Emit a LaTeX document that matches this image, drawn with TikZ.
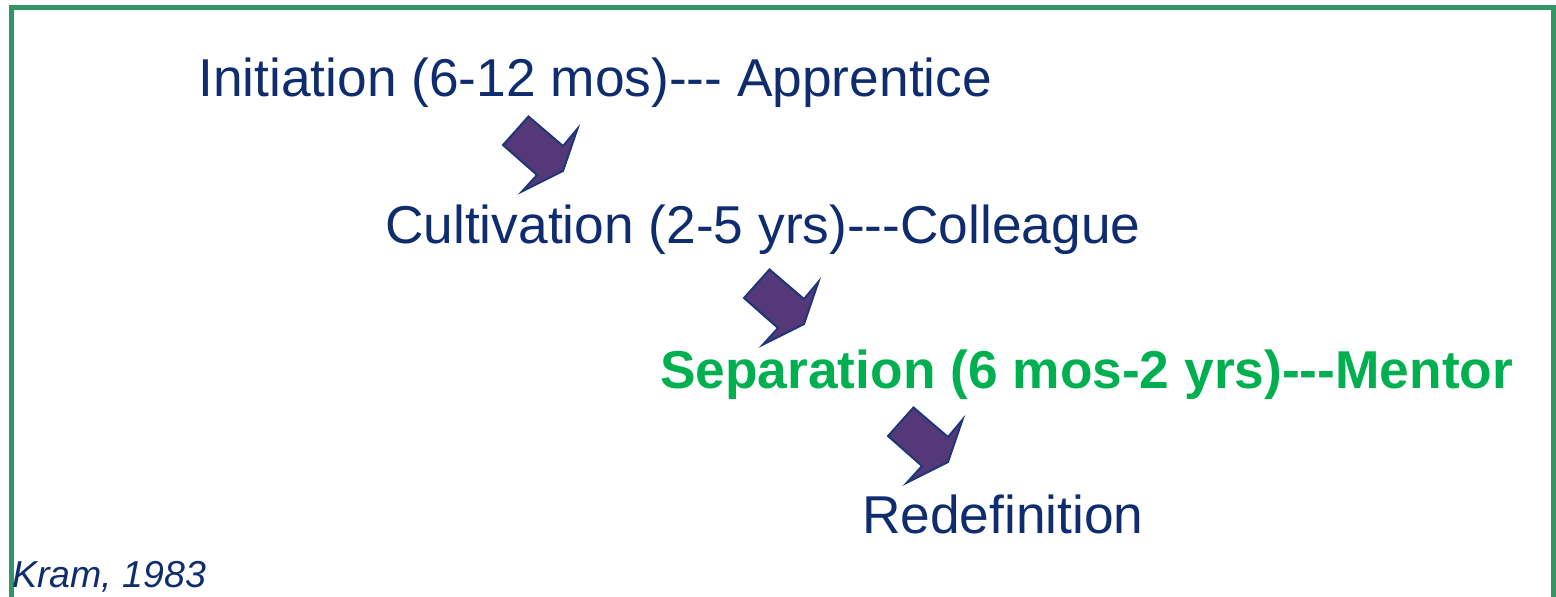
\documentclass[tikz,border=0pt]{standalone}
\usepackage{fontspec}
\setmainfont{Liberation Sans}
\definecolor{stagenavy}{RGB}{15,45,110}
\definecolor{stagegreen}{RGB}{0,176,80}
\definecolor{framegreen}{RGB}{52,150,100}
\definecolor{arrowfill}{RGB}{85,56,120}
\definecolor{arrowline}{RGB}{30,55,120}
\tikzset{
	stage/.style={anchor=base west, inner sep=0pt, text=stagenavy, font=\fontsize{53.3}{60}\selectfont},
	current/.style={stage, text=stagegreen, font=\fontsize{53.3}{60}\selectfont\bfseries},
	source/.style={anchor=base west, inner sep=0pt, text=stagenavy, font=\fontsize{37.5}{40}\selectfont\itshape},
	bentarrow/.style={draw=arrowline, fill=arrowfill, line width=2pt, line join=miter}
}
\begin{document}
\begin{tikzpicture}[x=1pt,y=-1pt]
		\clip (0,0) rectangle (1556,597);
		\draw [draw=framegreen, line width=5pt] (11.5,7.5) rectangle (1553.5,640);
		
		\node [stage] (init) at (198,96.7) {Initiation (6-12 mos)-{}-{}- Apprentice};
		\node [stage] (cult) at (385,243) {Cultivation (2-5 yrs)-{}-{}-Colleague};
		\node [current] (sep) at (660,388.3) {Separation (6 mos-2 yrs)-{}-{}-Mentor};
		\node [stage] (redef) at (862,533.3) {Redefinition};
		\node [source] (kram) at (12,587.7) {Kram, 1983};
		
		\foreach \p in {(503,145), (744,298), (888,436)}
			\draw [bentarrow, shift={\p}] (0,0) -- (25.5,-28.5) -- (60,1) -- (74.5,-16.3) -- (60,26) -- (19,46.5) -- (34,30) -- cycle;
	\end{tikzpicture}
\end{document}
